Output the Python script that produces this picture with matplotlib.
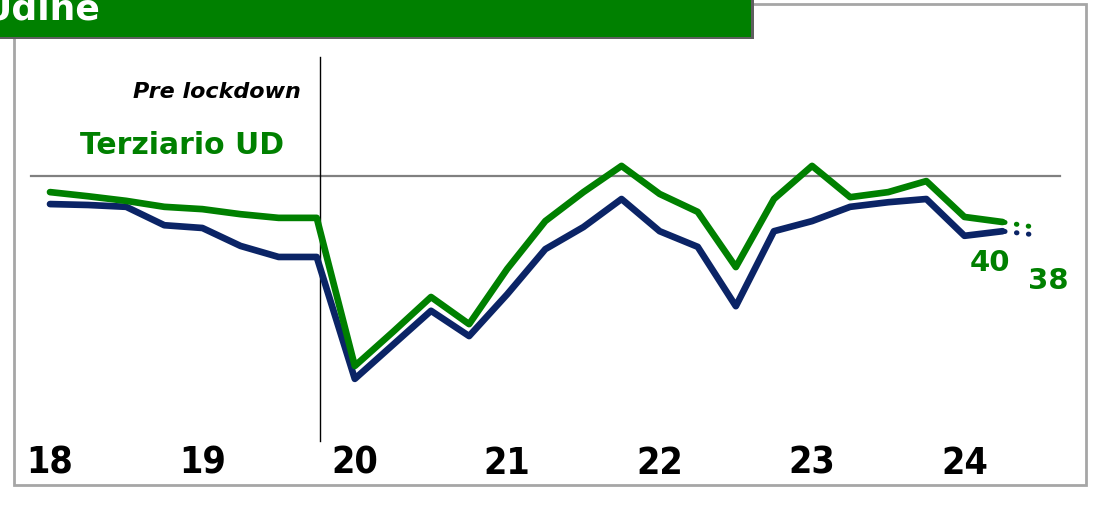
import matplotlib
matplotlib.use("Agg")
import matplotlib.pyplot as plt
from matplotlib.patches import Rectangle
from matplotlib.transforms import blended_transform_factory

# dati trimestrali 2018 Q1 - 2024 Q2
years = ["18", "19", "20", "21", "22", "23", "24"]
terziario_ud = [46.5, 45.6, 44.6, 43.3, 42.8, 41.7, 40.9, 40.9,
                8.7, 16.1, 23.7, 17.8, 29.8, 40.2, 46.5, 52.2,
                46.1, 42.2, 30.2, 45.0, 52.2, 45.4, 46.5, 48.9,
                41.1, 40.0]
terziario_fvg = [43.9, 43.7, 43.3, 39.3, 38.7, 34.8, 32.4, 32.4,
                 5.9, 13.3, 20.7, 15.2, 24.3, 34.1, 38.9, 45.0,
                 38.0, 34.6, 21.7, 38.0, 40.2, 43.3, 44.3, 45.0,
                 37.0, 38.0]
previsione_ud = 39.0
previsione_fvg = 37.3
soglia = 50
lockdown_q = 7.08

GREEN = "#008000"
NAVY = "#0b2466"

fig = plt.figure(figsize=(10.94, 5.06), dpi=100)
ax = fig.add_axes([0, 0, 1, 1])
ax.set_xlim(-1.312, 27.40)
ax.set_ylim(-21.52, 88.48)
ax.axis("off")

# cornice grigia e banner
fig.patches.append(Rectangle((14 / 1094, 1 - 486 / 506), 1072 / 1094, 481 / 506,
                             transform=fig.transFigure, fill=False,
                             edgecolor="#a6a6a6", linewidth=2, zorder=0))
fig.patches.append(Rectangle((-0.01, 1 - 40 / 506), 754 / 1094 + 0.01, 41 / 506,
                             transform=fig.transFigure, facecolor="#5f5f5f",
                             edgecolor="none", zorder=1))
fig.patches.append(Rectangle((-0.01, 1 - 38 / 506), 751 / 1094 + 0.01, 39 / 506,
                             transform=fig.transFigure, facecolor=GREEN,
                             edgecolor="none", zorder=2))
fig.text(100 / 1094, 1 - 20 / 506, "Udine", color="white", fontsize=26,
         fontweight="bold", ha="right", va="baseline", zorder=3)

q = list(range(len(terziario_ud)))
ax.plot([-0.5, 26.5], [soglia, soglia], color="#808080", lw=1.6, zorder=1)
ax.plot([lockdown_q, lockdown_q], [75.9, -7.6], color="black", lw=1, zorder=1)

ax.plot(q, terziario_fvg, color=NAVY, lw=4.8, solid_joinstyle="round",
        solid_capstyle="round", zorder=3)
ax.plot(q, terziario_ud, color=GREEN, lw=4.8, solid_joinstyle="round",
        solid_capstyle="round", zorder=4)
ax.plot([q[-1], q[-1] + 0.75], [terziario_fvg[-1], previsione_fvg], color=NAVY,
        lw=3.6, linestyle=(2.0, (0.1, 2.3)), dash_capstyle="round", zorder=3)
ax.plot([q[-1], q[-1] + 0.75], [terziario_ud[-1], previsione_ud], color=GREEN,
        lw=3.6, linestyle=(2.0, (0.1, 2.3)), dash_capstyle="round", zorder=4)

ax.text(lockdown_q - 0.5, 68.5, "Pre lockdown", fontsize=16, style="italic",
        fontweight="bold", ha="right", va="center")
ax.text(0.78, 56.8, "Terziario UD", fontsize=21.5, color=GREEN,
        fontweight="bold", ha="left", va="center")

ax.text(q[-1] - 0.33, 31.3, "40", fontsize=21, color=GREEN, fontweight="bold",
        ha="center", va="center")
ax.text(q[-1] + 1.2, 27.4, "38", fontsize=21, color=GREEN, fontweight="bold",
        ha="center", va="center")

trans = blended_transform_factory(ax.transData, ax.transAxes)
for k, y in enumerate(years):
    ax.text(4 * k, 1 - 464 / 506, y, transform=trans, fontsize=27,
            fontweight="bold", fontstretch="condensed",
            ha="center", va="center")

fig.savefig("out.png", dpi=100)
